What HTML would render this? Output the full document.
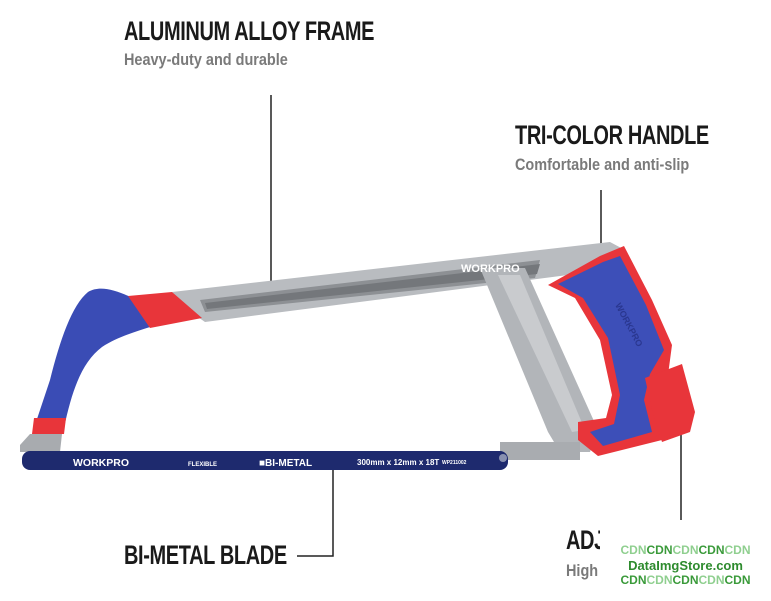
<!DOCTYPE html>
<html><head><meta charset="utf-8"><style>
body{margin:0;background:#fff;width:771px;height:601px;overflow:hidden;position:relative;font-family:"Liberation Sans",sans-serif}
.t{position:absolute;font-weight:bold;color:#1a1a1a;font-size:27px;transform-origin:0 0;transform:scaleX(.74);white-space:nowrap;letter-spacing:-0.5px}
.s{position:absolute;color:#7a7a7a;font-size:17px;font-weight:bold;transform-origin:0 0;transform:scaleX(.85);white-space:nowrap}
</style></head><body>
<svg width="771" height="601" style="position:absolute;left:0;top:0">
<g stroke="#222" stroke-width="1.5" fill="none">
<line x1="271" y1="95" x2="271" y2="289"/>
<line x1="601" y1="190" x2="601" y2="278"/>
<line x1="681" y1="432" x2="681" y2="520"/>
<polyline points="333,468 333,556 297,556"/>
</g>
<polygon points="172,292 610,242 625,250 622,268 205,322 195,315" fill="#b9bcc0"/>
<polygon points="200,300 540,260 535,278 205,312" fill="#8d9094"/>
<polygon points="205,303 540,264 537,274 207,309" fill="#74777b"/>
<polygon points="480,268 525,268 598,430 590,452 560,452 548,432" fill="#b2b5b9"/>
<polygon points="498,275 520,275 585,430 572,432" fill="#c9cbce"/>
<rect x="500" y="442" width="80" height="18" fill="#a9acb0"/>
<polygon points="548,285 600,256 624,246 652,300 672,345 668,375 650,382 658,412 662,440 598,456 578,440 578,422 606,418 612,395 600,340 575,298" fill="#e8353a"/>
<polygon points="558,284 603,262 620,256 646,305 664,350 650,374 644,400 652,432 603,446 590,432 614,424 620,395 608,338 583,298" fill="#3d4fb8"/>
<polygon points="645,378 682,364 695,412 690,432 662,442 652,410" fill="#e8353a"/>
<text x="615" y="305" font-family="Liberation Sans" font-weight="bold" font-size="9" fill="#2a3790" transform="rotate(62 615 305)">WORKPRO</text>
<text x="461" y="272" font-family="Liberation Sans" font-weight="bold" font-size="11" fill="#fff">WORKPRO</text>
<path d="M133,298 C115,290 100,285 88,292 C72,305 60,340 50,380 L35,425 L64,428 C72,390 82,362 102,347 C117,337 135,332 150,327 Z" fill="#3a4cb5"/>
<polygon points="128,296 172,292 202,318 150,328" fill="#e8353a"/>
<polygon points="34,418 66,418 64,434 32,434" fill="#e8353a"/>
<polygon points="30,434 62,434 60,452 20,452 20,445" fill="#a8abaf"/>
<rect x="22" y="451" width="486" height="19" rx="8" fill="#1e2a6e"/>
<circle cx="503" cy="458" r="4" fill="#8890b0"/>
<g font-family="Liberation Sans" font-weight="bold" fill="#fff">
<text x="73" y="466" font-size="10.5">WORKPRO</text>
<text x="188" y="466" font-size="6">FLEXIBLE</text>
<text x="259" y="466" font-size="10">■BI-METAL</text>
<text x="357" y="465" font-size="8">300mm x 12mm x 18T</text>
<text x="442" y="464" font-size="5">WP211002</text>
</g>
</svg>
<div class="t" style="left:124px;top:16px">ALUMINUM ALLOY FRAME</div>
<div class="s" style="left:124px;top:50px">Heavy-duty and durable</div>
<div class="t" style="left:515px;top:120px">TRI-COLOR HANDLE</div>
<div class="s" style="left:515px;top:155px">Comfortable and anti-slip</div>
<div class="t" style="left:124px;top:540px">BI-METAL BLADE</div>
<div class="t" style="left:566px;top:525px">ADJUSTABLE KNOB</div>
<div class="s" style="left:566px;top:561px">High</div>
<div style="position:absolute;left:600px;top:530px;width:171px;height:65px;background:#fff;font-family:'Liberation Sans',sans-serif;font-weight:bold;text-align:center;line-height:15px;font-size:12px;padding-top:13px;box-sizing:border-box">
<div><span style="color:#8fcf8f">CDN</span><span style="color:#3a9a3a">CDN</span><span style="color:#8fcf8f">CDN</span><span style="color:#3a9a3a">CDN</span><span style="color:#8fcf8f">CDN</span></div>
<div style="color:#2e8b2e;font-size:13px">DataImgStore.com</div>
<div><span style="color:#3a9a3a">CDN</span><span style="color:#8fcf8f">CDN</span><span style="color:#3a9a3a">CDN</span><span style="color:#8fcf8f">CDN</span><span style="color:#3a9a3a">CDN</span></div>
</div>
</body></html>
